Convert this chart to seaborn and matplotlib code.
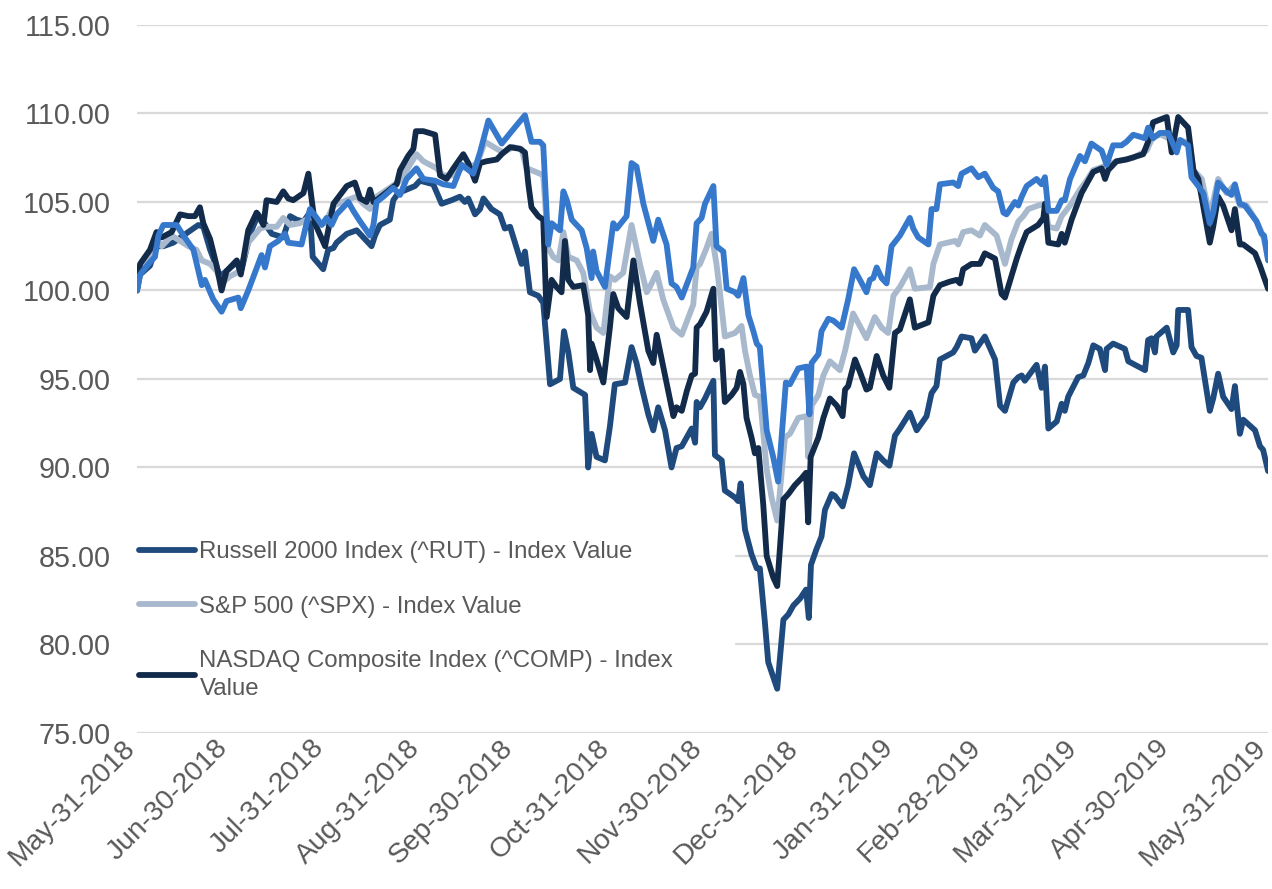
import pandas as pd
import matplotlib
matplotlib.use("Agg")
import matplotlib.pyplot as plt
import matplotlib.dates as mdates
import matplotlib.transforms as mtransforms
import seaborn as sns

# index values, rebased to 100 on May-31-2018; x = days after the start date
start = pd.Timestamp("2018-05-31")

rut_points = [
    (0, 100.0), (1.0, 100.9), (4.2, 101.4), (6.3, 102.5), (8.5, 102.5), (11.7, 102.7), (14.9, 103.1),
    (19.8, 103.7), (21.4, 103.6), (23.6, 102.3), (26.8, 100.8), (28.9, 101.1), (32.2, 101.6), (33.8, 101.2),
    (36.5, 103.2), (39.1, 104.3), (40.8, 103.9), (43.5, 103.2), (47.2, 103.0), (49.4, 104.2), (51.5, 104.0),
    (53.7, 103.9), (55.8, 104.4), (56.7, 101.9), (60.1, 101.2), (61.7, 102.3), (63.4, 102.4), (64.4, 102.7),
    (67.7, 103.2), (70.9, 103.4), (74.1, 102.8), (75.7, 102.5), (76.8, 103.1), (78.4, 103.7), (81.6, 104.0),
    (82.7, 105.1), (84.3, 105.5), (87.0, 105.7), (89.7, 105.9), (91.3, 106.2), (95.6, 106.0), (98.3, 104.9),
    (101.5, 105.1), (104.2, 105.3), (105.8, 105.0), (106.9, 105.2), (109.1, 104.3), (110.7, 104.6),
    (111.8, 105.2), (114.4, 104.6), (117.1, 104.3), (118.7, 103.5), (120.4, 103.6), (122.5, 102.4),
    (124.1, 101.5), (125.2, 102.2), (126.8, 99.9), (129.5, 99.7), (131.1, 99.3), (133.3, 94.7), (136.5, 95.0),
    (137.8, 97.7), (139.2, 96.5), (140.8, 94.5), (144.6, 94.1), (145.6, 90.0), (146.7, 91.9), (148.3, 90.6),
    (151.0, 90.4), (152.6, 92.3), (154.2, 94.7), (157.5, 94.8), (159.6, 96.8), (161.2, 95.9), (162.8, 94.6),
    (165.0, 93.0), (166.6, 92.1), (168.2, 93.4), (170.4, 92.1), (172.5, 90.0), (174.1, 91.1), (175.8, 91.2),
    (179.0, 92.2), (180.1, 91.4), (180.6, 93.7), (181.7, 93.4), (183.3, 93.9), (186.0, 94.9), (186.5, 90.7),
    (188.7, 90.4), (189.7, 88.7), (193.0, 88.3), (194.0, 88.1), (194.8, 89.1), (196.2, 86.5), (198.3, 85.1),
    (200.0, 84.3), (201.0, 84.3), (202.6, 81.3), (203.7, 79.0), (206.6, 77.5), (208.6, 81.4), (210.2, 81.7),
    (211.8, 82.2), (214.0, 82.6), (215.9, 83.1), (216.8, 81.5), (217.5, 84.5), (219.3, 85.4), (220.9, 86.1),
    (222.0, 87.6), (224.2, 88.5), (225.2, 88.4), (227.7, 87.8), (229.5, 89.0), (231.4, 90.8), (234.4, 89.5),
    (236.5, 89.0), (238.7, 90.8), (240.8, 90.4), (242.8, 90.1), (244.6, 91.8), (246.2, 92.2), (249.4, 93.1),
    (251.6, 92.1), (254.8, 92.9), (256.4, 94.2), (258.0, 94.6), (259.1, 96.1), (263.4, 96.5), (264.5, 96.8),
    (266.1, 97.4), (269.3, 97.3), (270.4, 96.6), (272.0, 97.0), (273.6, 97.4), (276.9, 96.1), (278.5, 93.5),
    (280.1, 93.2), (282.8, 94.8), (284.4, 95.1), (285.5, 95.2), (286.5, 94.9), (290.3, 95.8), (291.9, 94.5),
    (293.0, 95.7), (294.1, 92.2), (296.8, 92.6), (298.4, 93.6), (299.4, 93.2), (300.5, 94.0), (303.7, 95.1),
    (305.4, 95.2), (307.0, 95.9), (308.6, 96.9), (310.7, 96.7), (312.4, 95.5), (312.9, 96.7), (315.0, 97.0),
    (318.8, 96.7), (319.9, 96.0), (325.3, 95.5), (326.3, 97.2), (327.4, 97.3), (328.5, 96.5), (329.0, 97.4),
    (332.3, 97.9), (334.4, 96.5), (335.5, 96.9), (336.0, 98.9), (339.2, 98.9), (340.3, 96.8), (341.9, 96.3),
    (343.5, 96.2), (346.2, 93.2), (347.3, 93.9), (348.9, 95.3), (350.5, 94.0), (353.2, 93.3), (354.3, 94.6),
    (355.9, 91.9), (357.0, 92.7), (360.8, 92.1), (362.4, 91.2), (363.4, 91.0), (365, 89.8),
]

spx_points = [
    (0, 100.0), (1.0, 101.1), (4.2, 101.8), (6.3, 102.9), (8.0, 102.5), (11.2, 103.1), (13.9, 102.8),
    (16.6, 102.5), (19.2, 102.3), (20.9, 101.7), (23.6, 101.5), (25.7, 101.1), (27.3, 100.4), (30.0, 100.8),
    (33.2, 101.1), (35.9, 102.7), (39.7, 103.5), (41.8, 103.6), (45.1, 103.6), (47.2, 104.1), (49.4, 103.7),
    (52.6, 103.8), (56.4, 104.2), (58.0, 103.8), (60.7, 103.8), (63.4, 104.8), (67.7, 105.1), (70.9, 105.3),
    (73.0, 104.9), (75.2, 104.6), (77.3, 105.3), (81.6, 105.8), (84.9, 106.2), (88.1, 107.1), (90.2, 107.7),
    (92.4, 107.3), (96.7, 106.9), (98.8, 106.5), (102.1, 106.5), (105.3, 107.0), (109.6, 107.1),
    (112.3, 108.4), (116.1, 108.0), (118.2, 107.8), (121.4, 108.1), (124.1, 108.0), (125.7, 106.9),
    (127.3, 106.8), (130.0, 106.6), (131.1, 106.5), (132.7, 102.4), (134.3, 101.9), (136.0, 101.7),
    (137.6, 103.3), (139.2, 101.9), (141.9, 101.7), (144.0, 101.0), (146.2, 98.8), (148.3, 97.9),
    (150.5, 97.6), (152.6, 100.8), (154.2, 100.6), (156.9, 101.0), (159.6, 103.7), (162.3, 101.5),
    (164.5, 99.9), (165.5, 100.2), (167.7, 101.0), (169.8, 99.5), (173.1, 97.9), (175.8, 97.5), (179.5, 99.2),
    (180.6, 101.3), (181.7, 101.5), (183.8, 102.4), (185.4, 103.2), (187.0, 101.5), (188.1, 99.9),
    (189.7, 97.4), (193.0, 97.6), (195.1, 98.0), (196.2, 96.6), (197.8, 95.2), (199.4, 94.1), (201.0, 94.0),
    (203.2, 89.9), (204.8, 88.3), (206.6, 87.0), (209.1, 91.7), (210.7, 91.9), (213.4, 92.8), (216.1, 92.9),
    (216.6, 90.6), (217.7, 93.5), (219.9, 94.1), (221.5, 95.2), (223.6, 96.0), (226.8, 95.5), (228.5, 96.6),
    (231.1, 98.7), (235.4, 97.3), (238.1, 98.5), (240.3, 97.9), (242.4, 97.6), (244.1, 99.7), (246.2, 100.2),
    (249.4, 101.2), (251.0, 100.1), (255.9, 100.2), (257.0, 101.5), (259.1, 102.6), (264.0, 102.8),
    (265.0, 102.6), (266.6, 103.3), (269.3, 103.4), (272.0, 103.1), (273.6, 103.7), (277.4, 103.1),
    (280.1, 101.5), (282.2, 102.9), (284.4, 103.9), (286.0, 104.2), (287.6, 104.6), (290.8, 104.8),
    (293.0, 104.9), (294.1, 103.6), (296.8, 103.5), (298.4, 104.2), (301.1, 104.8), (304.3, 105.7),
    (306.4, 106.2), (308.6, 106.8), (311.8, 107.0), (316.1, 107.3), (321.5, 107.5), (325.8, 107.9),
    (327.9, 108.7), (330.6, 108.8), (332.8, 108.6), (335.5, 108.0), (336.6, 108.5), (339.8, 108.3),
    (340.9, 106.8), (343.6, 106.3), (346.2, 104.2), (348.9, 106.3), (351.6, 105.5), (353.8, 105.9),
    (355.9, 104.8), (358.1, 104.8), (361.3, 103.9), (363.4, 103.1), (365, 101.8),
]

comp_points = [
    (0, 100.0), (1.0, 101.5), (4.2, 102.3), (6.3, 103.3), (8.0, 103.0), (11.2, 103.3), (13.9, 104.3),
    (16.6, 104.2), (18.7, 104.2), (20.3, 104.7), (21.4, 103.8), (23.6, 102.9), (25.7, 101.4), (27.3, 100.0),
    (28.9, 101.1), (32.2, 101.7), (33.5, 100.9), (35.9, 103.4), (38.6, 104.4), (40.8, 103.7), (41.8, 105.1),
    (45.1, 105.0), (47.2, 105.6), (48.8, 105.2), (50.4, 105.1), (53.7, 105.5), (55.3, 106.6), (56.4, 105.1),
    (57.4, 103.8), (60.7, 102.5), (63.4, 104.9), (67.7, 105.9), (70.3, 106.1), (72.0, 105.2), (74.1, 105.0),
    (75.2, 105.7), (76.3, 105.0), (77.3, 105.1), (81.6, 105.7), (83.8, 106.0), (84.9, 106.8), (87.5, 107.6),
    (89.2, 108.0), (90.0, 109.0), (92.4, 109.0), (96.2, 108.8), (97.8, 106.5), (99.9, 106.3), (102.1, 106.9),
    (105.3, 107.7), (106.9, 107.2), (109.1, 106.2), (110.7, 107.2), (112.8, 107.3), (116.1, 107.4),
    (117.7, 107.7), (120.4, 108.1), (123.6, 108.0), (125.2, 107.8), (126.3, 106.0), (127.3, 104.7),
    (129.5, 104.2), (131.1, 104.0), (132.2, 98.5), (133.8, 100.6), (135.4, 100.2), (137.0, 99.9),
    (138.1, 102.8), (139.2, 100.6), (140.8, 100.2), (144.0, 100.3), (145.6, 98.6), (146.2, 95.5),
    (146.7, 97.0), (148.3, 96.1), (150.5, 94.8), (152.6, 97.9), (153.7, 99.8), (155.3, 99.0), (158.0, 98.5),
    (160.2, 101.7), (162.3, 99.3), (165.0, 96.6), (166.6, 95.9), (167.7, 97.5), (169.8, 95.7), (173.1, 92.9),
    (174.1, 93.4), (175.8, 93.2), (177.4, 94.3), (179.0, 95.2), (180.1, 95.3), (180.6, 97.9), (181.7, 98.1),
    (183.8, 98.8), (186.0, 100.1), (186.8, 96.1), (188.7, 96.6), (189.7, 93.7), (191.9, 94.1), (193.5, 94.5),
    (194.6, 95.4), (195.7, 94.7), (196.7, 92.8), (198.3, 91.7), (199.4, 90.8), (200.5, 91.1), (202.1, 87.9),
    (203.2, 85.0), (205.3, 83.8), (206.6, 83.3), (208.6, 88.2), (210.2, 88.5), (212.3, 89.0), (214.5, 89.4),
    (215.9, 89.7), (216.6, 86.9), (217.4, 90.6), (219.9, 91.7), (221.5, 92.8), (223.6, 93.9), (225.8, 93.5),
    (227.7, 92.9), (228.5, 94.4), (229.5, 94.6), (231.7, 96.1), (233.3, 95.4), (235.4, 94.4), (236.5, 94.5),
    (238.7, 96.3), (240.8, 95.2), (242.8, 94.5), (244.6, 97.6), (246.2, 97.8), (249.4, 99.5), (251.0, 97.9),
    (255.4, 98.2), (257.0, 99.7), (259.1, 100.3), (262.3, 100.5), (264.5, 100.6), (265.6, 100.4),
    (266.6, 101.2), (269.3, 101.5), (272.0, 101.5), (273.6, 102.1), (276.9, 101.8), (279.0, 99.8),
    (280.1, 99.6), (283.9, 101.8), (285.5, 102.6), (287.1, 103.3), (290.8, 103.7), (292.5, 104.1),
    (293.0, 104.9), (294.1, 102.7), (297.3, 102.6), (298.4, 103.2), (299.4, 102.7), (301.6, 104.0),
    (304.8, 105.5), (306.4, 106.0), (308.6, 106.7), (311.3, 106.9), (312.4, 106.3), (313.4, 106.8),
    (316.1, 107.3), (319.3, 107.4), (324.7, 107.7), (326.3, 108.4), (327.9, 109.5), (332.3, 109.8),
    (333.9, 107.8), (336.0, 109.8), (339.2, 109.2), (340.9, 106.8), (342.5, 106.3), (346.2, 102.7),
    (347.3, 103.6), (348.9, 105.3), (350.5, 104.8), (353.2, 103.4), (354.3, 104.6), (355.9, 102.6),
    (357.0, 102.6), (360.8, 102.1), (362.4, 101.4), (365, 100.1),
]

# fourth series (bright blue); its legend entry is cut off in the original
co_points = [
    (0, 100.0), (1.0, 100.9), (3.7, 101.5), (5.8, 101.9), (6.9, 103.1), (8.5, 103.7), (12.8, 103.7),
    (15.0, 103.1), (18.2, 102.3), (19.8, 101.1), (20.9, 100.3), (21.9, 100.6), (24.6, 99.5), (27.3, 98.8),
    (28.9, 99.4), (32.7, 99.6), (33.5, 99.0), (35.9, 100.0), (40.2, 102.0), (41.3, 101.3), (42.9, 102.5),
    (45.6, 102.8), (47.8, 103.2), (48.8, 102.7), (53.1, 102.6), (55.8, 104.6), (58.0, 104.1), (59.6, 103.7),
    (61.2, 104.1), (62.8, 103.7), (64.4, 104.3), (68.2, 105.0), (69.8, 104.5), (72.0, 103.9), (75.2, 103.1),
    (76.3, 103.7), (77.3, 105.0), (79.5, 105.3), (82.7, 105.8), (84.9, 105.4), (87.0, 106.3), (90.2, 106.9),
    (92.4, 106.3), (96.2, 106.2), (98.8, 106.0), (102.1, 105.9), (104.8, 107.1), (108.5, 106.6),
    (110.7, 107.8), (113.4, 109.6), (117.7, 108.3), (121.4, 109.1), (125.2, 109.9), (127.3, 108.4),
    (130.0, 108.4), (131.1, 108.2), (132.7, 102.6), (133.8, 103.8), (136.5, 103.4), (137.6, 105.6),
    (138.7, 105.1), (140.3, 104.0), (143.5, 103.4), (145.1, 102.4), (146.7, 100.7), (147.2, 102.2),
    (148.3, 101.1), (151.0, 100.2), (153.7, 103.8), (154.8, 103.5), (158.0, 104.2), (159.6, 107.2),
    (161.2, 107.0), (163.4, 104.9), (166.6, 102.8), (168.2, 104.0), (170.9, 102.6), (172.5, 100.4),
    (174.1, 100.2), (175.8, 99.6), (179.5, 101.3), (180.6, 103.8), (182.2, 104.1), (183.3, 104.9),
    (186.0, 105.9), (187.0, 102.5), (189.2, 102.2), (190.3, 100.1), (193.0, 99.9), (194.0, 99.7),
    (195.7, 100.7), (197.3, 98.6), (198.9, 97.7), (200.0, 97.0), (201.0, 96.8), (203.2, 92.1), (205.3, 90.6),
    (206.9, 89.2), (209.4, 94.8), (210.7, 94.7), (213.4, 95.6), (216.1, 95.7), (217.0, 93.0), (217.7, 95.9),
    (219.9, 96.4), (220.9, 97.7), (223.1, 98.4), (224.7, 98.3), (227.4, 97.9), (229.5, 99.5), (231.4, 101.2),
    (233.3, 100.6), (235.4, 99.9), (236.5, 100.6), (237.6, 100.7), (238.7, 101.3), (240.3, 100.7),
    (241.9, 100.4), (243.5, 102.5), (246.2, 103.1), (249.4, 104.1), (250.5, 103.5), (252.1, 103.0),
    (255.4, 102.6), (256.4, 104.6), (258.0, 104.6), (259.1, 106.0), (263.4, 106.1), (265.0, 105.9),
    (266.1, 106.6), (269.3, 106.9), (271.5, 106.4), (273.6, 106.6), (276.3, 105.8), (277.9, 105.6),
    (279.6, 104.4), (280.6, 104.3), (283.3, 105.0), (284.4, 104.8), (285.5, 105.3), (287.1, 105.9),
    (290.3, 106.3), (291.9, 106.0), (293.0, 106.4), (294.1, 104.5), (296.8, 104.5), (298.4, 105.1),
    (299.4, 105.1), (301.1, 106.3), (304.3, 107.6), (305.9, 107.3), (308.0, 108.3), (311.3, 107.9),
    (312.9, 107.1), (315.0, 108.2), (317.7, 108.2), (319.3, 108.4), (321.5, 108.8), (325.3, 108.6),
    (326.3, 109.2), (327.9, 108.6), (330.1, 108.9), (332.8, 108.9), (335.5, 107.8), (336.6, 108.5),
    (339.2, 108.2), (340.3, 106.4), (342.5, 105.9), (344.1, 105.5), (346.2, 103.8), (347.3, 104.4),
    (348.9, 106.1), (351.6, 105.6), (353.2, 105.4), (354.3, 106.0), (355.9, 104.9), (357.5, 104.8),
    (361.3, 103.9), (362.9, 103.2), (363.7, 103.1), (365, 101.7),
]

series_names = [
    "Russell 2000 Index (^RUT) - Index Value",
    "S&P 500 (^SPX) - Index Value",
    "NASDAQ Composite Index (^COMP) - Index\nValue",
    "_hidden",
]
series_colors = ["#1F4A7D", "#A9B9CD", "#122B4A", "#3678CC"]

tick_dates = ["2018-05-31", "2018-06-30", "2018-07-31", "2018-08-31", "2018-09-30", "2018-10-31",
              "2018-11-30", "2018-12-31", "2019-01-31", "2019-02-28", "2019-03-31", "2019-04-30",
              "2019-05-31"]
y_ticks = [75, 80, 85, 90, 95, 100, 105, 110, 115]

sns.set_theme(style="white")
plt.rcParams["font.family"] = ["Liberation Sans", "DejaVu Sans"]

txt = "#595959"

fig = plt.figure(figsize=(12.72, 8.89), dpi=100)
ax = fig.add_axes([0.1077, 0.1755, 0.8892, 0.7964])

frames = []
for pts, name in zip([rut_points, spx_points, comp_points, co_points], series_names):
    df = pd.DataFrame(pts, columns=["day", "value"])
    df["date"] = start + pd.to_timedelta(df["day"], unit="D")
    df["series"] = name
    frames.append(df)
data = pd.concat(frames, ignore_index=True)

for name, color in zip(series_names, series_colors):
    sns.lineplot(
        data=data[data["series"] == name],
        x="date",
        y="value",
        color=color,
        linewidth=4.2,
        estimator=None,
        sort=False,
        label=name,
        ax=ax,
        solid_joinstyle="round",
        solid_capstyle="round",
    )

ax.set_xlim(start, pd.Timestamp("2019-05-31"))
ax.set_ylim(75, 115)
ax.set_yticks(y_ticks)
ax.set_yticklabels([f"{v:.2f}" for v in y_ticks])
ax.set_xticks(pd.to_datetime(tick_dates))
ax.xaxis.set_major_formatter(mdates.DateFormatter("%b-%d-%Y"))

ax.set_xlabel("")
ax.set_ylabel("")
ax.grid(False)
ax.yaxis.grid(True, color="#D9D9D9", linewidth=1.6)
ax.set_axisbelow(True)
for s in ax.spines.values():
    s.set_visible(False)

ax.tick_params(axis="y", length=0, pad=19, labelsize=20.7, labelcolor=txt)
ax.tick_params(axis="x", length=0, pad=8, labelsize=20.3, labelcolor=txt)
shift = mtransforms.ScaledTranslation(-6 / 100, 0, fig.dpi_scale_trans)
for lab in ax.get_xticklabels():
    lab.set_rotation(45)
    lab.set_ha("right")
    lab.set_va("center")
    lab.set_rotation_mode("anchor")
    lab.set_transform(lab.get_transform() + shift)

handles, labels = ax.get_legend_handles_labels()
leg = ax.legend(
    handles[:3], labels[:3],
    loc="upper left",
    bbox_to_anchor=(0.0, 0.0, 0.528, 0.274),
    mode="expand",
    frameon=True,
    facecolor="white",
    edgecolor="white",
    framealpha=1,
    fancybox=False,
    fontsize=17.3,
    handlelength=2.3,
    handletextpad=0.2,
    labelspacing=1.35,
    borderpad=0.1,
    borderaxespad=0,
)
for t in leg.get_texts():
    t.set_color(txt)
    t.set_linespacing(1.35)

fig.savefig("out.png", dpi=100)
